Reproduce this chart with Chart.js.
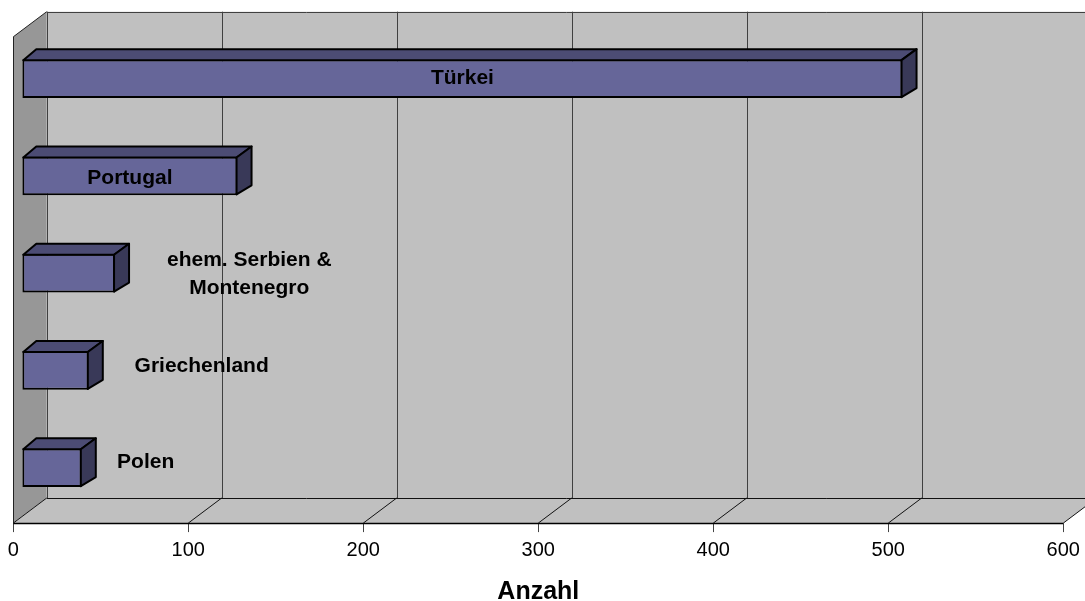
<!DOCTYPE html>
<html><head><meta charset="utf-8">
<script src="https://cdn.jsdelivr.net/npm/chart.js@4"></script>
<style>html,body{margin:0;padding:0;background:#fff;}canvas{display:block;}</style>
</head><body>
<canvas id="c" width="1085" height="601"></canvas>
<script>
// ---- data ----
const categories = ['Türkei', 'Portugal', ['ehem. Serbien &', 'Montenegro'], 'Griechenland', 'Polen'];
const values = [503, 123, 53, 38, 34];
const tickValues = [0, 100, 200, 300, 400, 500, 600];
const axisTitle = 'Anzahl';

// ---- layout / style (not data) ----
const FONT = '"Liberation Sans", Arial, Helvetica, sans-serif';
const PLANE = {fx: -9, fy: 6.8, bx: 24.4, by: -18.3};
const BARDEPTH = {dx: 14, dy: -10};
const labelPlacement = [
  {x: null, dy: 5.8},
  {x: null, dy: 8.2},
  {x: 129.7, dy: -6.8, lh: 28},
  {x: 102.5, dy: 1.7},
  {x: 70.5, dy: 0.8}
];

function poly(ctx, pts, fill, stroke, lw) {
  ctx.beginPath();
  ctx.moveTo(pts[0][0], pts[0][1]);
  for (let i = 1; i < pts.length; i++) ctx.lineTo(pts[i][0], pts[i][1]);
  ctx.closePath();
  if (fill) { ctx.fillStyle = fill; ctx.fill(); }
  if (stroke) { ctx.strokeStyle = stroke; ctx.lineWidth = lw || 1; ctx.stroke(); }
}
function line(ctx, x1, y1, x2, y2, col, lw) {
  ctx.beginPath(); ctx.moveTo(x1, y1); ctx.lineTo(x2, y2);
  ctx.strokeStyle = col; ctx.lineWidth = lw || 1; ctx.stroke();
}

const plugin3d = {
  id: 'plugin3d',
  beforeDatasetsDraw(chart) {
    const {ctx, chartArea: a, scales: {x}} = chart;
    const px = v => x.getPixelForValue(v);
    const fT = a.top + PLANE.fy, fB = a.bottom + PLANE.fy;
    const bT = a.top + PLANE.by, bB = a.bottom + PLANE.by;
    const f = v => px(v) + PLANE.fx, b = v => px(v) + PLANE.bx;
    const vmin = tickValues[0], vmax = tickValues[tickValues.length - 1];
    ctx.save();
    poly(ctx, [[b(vmin), bT], [b(vmax), bT], [b(vmax), bB], [b(vmin), bB]], '#c0c0c0');
    poly(ctx, [[f(vmin), fT], [b(vmin), bT], [b(vmin), bB], [f(vmin), fB]], '#979797');
    poly(ctx, [[f(vmin), fB], [b(vmin), bB], [b(vmax), bB], [f(vmax), fB]], '#c0c0c0');
    tickValues.forEach(v => {
      const bx = Math.round(b(v)) + 0.5;
      line(ctx, bx, bT, bx, bB, '#404040', 1);
      line(ctx, f(v), fB, b(v), bB, '#111111', 1);
      const fx = Math.round(f(v)) + 0.5;
      line(ctx, fx, fB, fx, fB + 9, '#444444', 1);
    });
    line(ctx, b(vmin), Math.round(bT) + 0.5, b(vmax), Math.round(bT) + 0.5, '#404040', 1);
    line(ctx, b(vmin), Math.round(bB) + 0.5, b(vmax), Math.round(bB) + 0.5, '#111111', 1);
    line(ctx, f(vmin), fT, b(vmin), bT, '#222222', 1);
    line(ctx, Math.round(f(vmin)) + 0.5, fT, Math.round(f(vmin)) + 0.5, fB, '#222222', 1);
    line(ctx, f(vmin), Math.round(fB) + 0.5, f(vmax), Math.round(fB) + 0.5, '#000000', 1.5);
    ctx.restore();
  },
  afterDatasetsDraw(chart) {
    const {ctx, scales: {x}} = chart;
    const meta = chart.getDatasetMeta(0);
    ctx.save();
    ctx.lineJoin = 'round';
    meta.data.forEach((bar) => {
      const p = bar.getProps(['x', 'y', 'base', 'height'], true);
      const x0 = p.base, x1 = p.x, y0 = p.y - p.height / 2, y1 = p.y + p.height / 2;
      const dx = BARDEPTH.dx, dy = BARDEPTH.dy;
      poly(ctx, [[x0 + 1, y0 + 1], [x0 + dx, y0 + dy], [x1 + dx, y0 + dy], [x1 - 1, y0 + 1]], '#4c4c74', '#000', 2);
      poly(ctx, [[x1 - 1, y0 + 1], [x1 + dx, y0 + dy], [x1 + dx, y1 + dy], [x1 - 1, y1 - 1]], '#393958', '#000', 2);
    });
    ctx.fillStyle = '#000';
    ctx.font = 'bold 21px ' + FONT;
    ctx.textAlign = 'center';
    ctx.textBaseline = 'alphabetic';
    meta.data.forEach((bar, i) => {
      const p = bar.getProps(['x', 'y', 'base'], true);
      const lp = labelPlacement[i];
      const cx = lp.x === null ? (p.base + p.x) / 2 : x.getPixelForValue(lp.x);
      const lab = categories[i];
      const lines = Array.isArray(lab) ? lab : [lab];
      lines.forEach((t, k) => ctx.fillText(t, cx, p.y + lp.dy + k * (lp.lh || 0)));
    });
    ctx.restore();
  },
  afterDraw(chart) {
    // axis title, centred on the front plane of the 3D floor
    const {ctx, scales: {x}} = chart;
    const vmin = tickValues[0], vmax = tickValues[tickValues.length - 1];
    const cx = (x.getPixelForValue(vmin) + x.getPixelForValue(vmax)) / 2 + PLANE.fx;
    ctx.save();
    ctx.fillStyle = '#000';
    ctx.font = 'bold 25px ' + FONT;
    ctx.textAlign = 'center';
    ctx.textBaseline = 'alphabetic';
    ctx.fillText(axisTitle, cx, x.bottom + 15.5);
    ctx.restore();
  }
};

new Chart(document.getElementById('c').getContext('2d'), {
  type: 'bar',
  data: {
    labels: categories,
    datasets: [{
      data: values,
      backgroundColor: '#666699',
      borderColor: '#000000',
      borderWidth: 2,
      borderSkipped: false,
      barPercentage: 0.4,
      categoryPercentage: 1
    }]
  },
  options: {
    indexAxis: 'y',
    responsive: false,
    animation: false,
    devicePixelRatio: 1,
    layout: {autoPadding: false, padding: {left: 22.3, right: 12.7, top: 30, bottom: 17.3}},
    plugins: {legend: {display: false}, tooltip: {enabled: false}},
    scales: {
      x: {
        min: tickValues[0],
        max: tickValues[tickValues.length - 1],
        afterBuildTicks: s => { s.ticks = tickValues.map(v => ({value: v})); },
        afterFit: s => { s.paddingLeft = 0; s.paddingRight = 0; },
        grid: {display: false, drawTicks: false},
        border: {display: false},
        ticks: {labelOffset: -9, padding: 21.7, color: '#000',
                font: {family: FONT, size: 20, lineHeight: 1.2}},
        title: {display: false}
      },
      y: {display: false}
    }
  },
  plugins: [plugin3d]
});
</script>
</body></html>
